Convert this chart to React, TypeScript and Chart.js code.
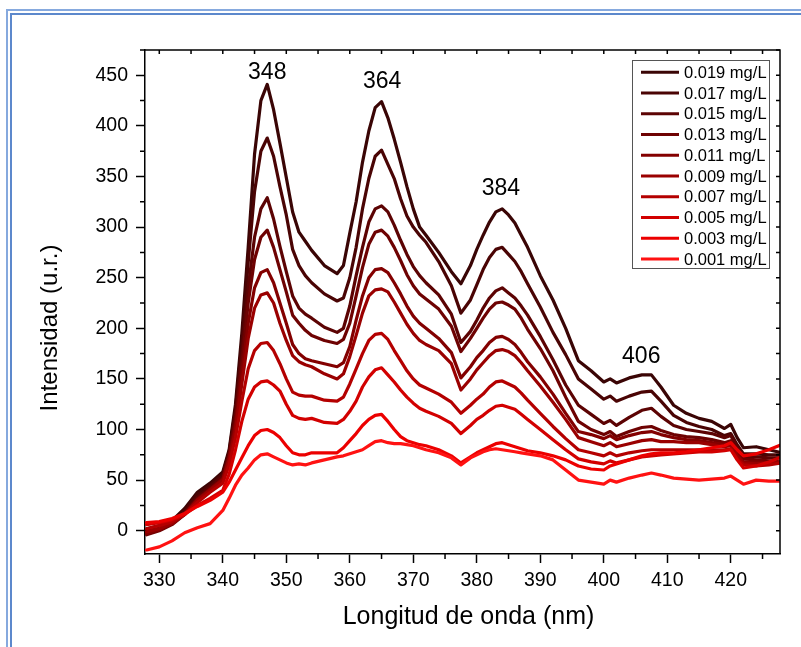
import React, { useEffect, useRef } from "react";
import { Chart, registerables } from "chart.js";

Chart.register(...registerables);

// ---------- data ----------
const wavelengths = [328, 330, 332, 334, 336, 338, 340, 341, 342, 343, 344, 345, 346, 347, 348, 349, 350, 351, 352, 353, 354, 356, 358, 359, 360, 361, 362, 363, 364, 365, 366, 367, 368, 369, 370, 371, 372, 374, 376, 377.5, 379, 380, 381, 382, 383, 384, 385, 386, 387, 388, 390, 392, 394, 396, 398, 400, 401, 402, 404, 406, 407.5, 409, 411, 413, 415, 417, 419, 420, 421, 422, 424, 426, 428];

const seriesLabels = ["0.019 mg/L", "0.017 mg/L", "0.015 mg/L", "0.013 mg/L", "0.011 mg/L", "0.009 mg/L", "0.007 mg/L", "0.005 mg/L", "0.003 mg/L", "0.001 mg/L"];

const s019 = [2, 5, 10, 22, 38, 47, 58, 80, 125, 195, 280, 372, 425, 441, 416, 383, 349, 315, 295, 286, 277, 262, 254, 262, 294, 325, 364, 395, 418, 424, 408, 387, 364, 340, 318, 300, 292, 275, 256, 244, 262, 278, 292, 305, 315, 318, 312, 304, 292, 280, 252, 228, 200, 168, 158, 147, 150, 146, 151, 154, 154, 142, 124, 116, 111, 108, 101, 105, 92, 82, 83, 80, 77];
const s017 = [0, 3, 9, 20, 36, 45, 56, 78, 120, 185, 265, 335, 375, 388, 370, 340, 312, 278, 262, 252, 245, 234, 227, 230, 250, 280, 318, 348, 370, 376, 362, 348, 328, 311, 300, 292, 285, 266, 242, 215, 228, 243, 258, 270, 278, 280, 273, 266, 256, 244, 221, 196, 174, 150, 140, 130, 133, 128, 133, 137, 138, 128, 114, 107, 103, 100, 94, 96, 85, 76, 76, 75, 75];
const s015 = [-2, 1, 8, 18, 33, 43, 54, 76, 115, 175, 240, 290, 318, 329, 308, 281, 256, 232, 220, 214, 210, 201, 196, 200, 222, 252, 280, 305, 318, 321, 315, 302, 287, 273, 261, 252, 245, 233, 214, 186, 197, 208, 220, 230, 237, 240, 235, 230, 222, 213, 192, 169, 144, 124, 115, 106, 109, 104, 112, 119, 121, 113, 104, 100, 98, 96, 92, 94, 82, 73, 73, 72, 72];
const s013 = [-4, 0, 6, 16, 30, 41, 52, 74, 110, 165, 225, 268, 290, 297, 280, 258, 236, 213, 205, 198, 193, 188, 185, 189, 205, 232, 260, 283, 295, 297, 291, 280, 267, 253, 242, 234, 229, 219, 202, 177, 190, 200, 210, 219, 225, 226, 223, 219, 210, 199, 180, 158, 132, 108, 100, 95, 98, 93, 98, 102, 103, 99, 95, 93, 92, 90, 87, 89, 78, 71, 70, 69, 68];
const s011 = [-3, 1, 7, 17, 31, 41, 51, 72, 105, 155, 205, 240, 255, 258, 245, 225, 205, 184, 175, 170, 168, 165, 162, 166, 182, 208, 232, 250, 258, 259, 255, 245, 234, 222, 212, 205, 200, 190, 176, 151, 162, 171, 178, 186, 191, 192, 189, 184, 176, 167, 152, 135, 116, 98, 95, 91, 94, 90, 94, 97, 98, 95, 92, 90, 89, 87, 85, 86, 76, 68, 68, 67, 67];
const s009 = [-1, 2, 7, 16, 30, 40, 50, 70, 100, 145, 190, 220, 233, 235, 225, 205, 188, 173, 167, 164, 162, 155, 150, 155, 172, 193, 215, 232, 238, 239, 236, 226, 215, 204, 195, 188, 184, 178, 165, 139, 150, 159, 166, 173, 178, 179, 177, 173, 166, 158, 143, 127, 110, 92, 88, 84, 87, 83, 86, 89, 90, 88, 88, 87, 87, 85, 83, 84, 74, 67, 66, 67, 68];
const s007 = [2, 5, 9, 16, 28, 38, 47, 65, 92, 128, 160, 178, 185, 186, 178, 165, 150, 137, 134, 133, 133, 129, 128, 132, 145, 160, 175, 188, 194, 195, 189, 178, 168, 158, 150, 144, 141, 135, 127, 116, 124, 130, 135, 142, 147, 148, 145, 142, 136, 129, 116, 103, 91, 80, 77, 74, 77, 74, 77, 79, 80, 80, 80, 80, 80, 80, 80, 81, 71, 65, 64, 65, 67];
const s005 = [6, 8, 11, 16, 25, 32, 40, 56, 80, 108, 130, 142, 147, 148, 144, 138, 125, 114, 111, 110, 111, 107, 106, 110, 118, 128, 142, 152, 159, 161, 154, 147, 139, 132, 126, 121, 118, 113, 106, 96, 104, 110, 114, 119, 123, 124, 122, 120, 115, 110, 100, 90, 80, 71, 68, 66, 69, 67, 70, 73, 74, 75, 76, 77, 78, 78, 79, 80, 70, 62, 64, 68, 73];
const s003 = [8, 9, 12, 17, 24, 30, 38, 48, 60, 72, 84, 94, 99, 100, 97, 92, 84, 77, 75, 75, 77, 77, 77, 82, 89, 96, 104, 110, 114, 115, 108, 100, 93, 89, 87, 85, 84, 80, 74, 67, 73, 77, 80, 83, 86, 87, 85, 83, 81, 79, 77, 74, 70, 64, 61, 60, 64, 66, 70, 74, 76, 77, 77, 78, 80, 82, 84, 87, 80, 74, 76, 80, 85];
const s001 = [-19, -16, -10, -2, 3, 7, 20, 32, 45, 55, 62, 70, 75, 76, 73, 70, 67, 65, 66, 65, 67, 70, 73, 74, 76, 78, 80, 84, 88, 89, 87, 86, 86, 85, 84, 82, 80, 77, 72, 65, 72, 75, 78, 80, 81, 80, 79, 78, 77, 76, 74, 70, 60, 50, 48, 46, 50, 48, 52, 55, 57, 55, 52, 51, 50, 51, 52, 54, 50, 46, 50, 49, 49];

const seriesColors = ["#3a0505", "#4a0404", "#5c0303", "#6e0202", "#830000", "#9a0000", "#b40000", "#d20000", "#ec0000", "#ff1212"];

const xTicks = [330, 340, 350, 360, 370, 380, 390, 400, 410, 420];
const xMinorTicks = [335, 345, 355, 365, 375, 385, 395, 405, 415, 425];
const yTicks = [0, 50, 100, 150, 200, 250, 300, 350, 400, 450];
const yMinorTicks = [25, 75, 125, 175, 225, 275, 325, 375, 425, 475];

const peakLabels = ["348", "364", "384", "406"];
const peakLabelX = [347.0, 365.1, 383.8, 405.9];
const peakLabelY = [453, 443.5, 337.6, 171.8];

const xTitle = "Longitud de onda (nm)";
const yTitle = "Intensidad (u.r.)";

const X_MIN = 327.75;
const X_MAX = 427.75;
const Y_MIN = -23;
const Y_MAX = 475;

const FONT = "'Liberation Sans', Arial, Helvetica, sans-serif";

const seriesValues = [s019, s017, s015, s013, s011, s009, s007, s005, s003, s001];

const decorPlugin = {
  id: "decor",
  beforeDraw(chart: any) {
    const ctx = chart.ctx;
    ctx.save();
    ctx.fillStyle = "#ffffff";
    ctx.fillRect(0, 0, chart.width, chart.height);
    // double blue frame (top and left visible)
    ctx.lineWidth = 2;
    ctx.strokeStyle = "#86a9de";
    ctx.beginPath();
    ctx.moveTo(7, chart.height + 5);
    ctx.lineTo(7, 10);
    ctx.lineTo(chart.width + 5, 10);
    ctx.stroke();
    ctx.strokeStyle = "#5c88cc";
    ctx.beginPath();
    ctx.moveTo(11, chart.height + 5);
    ctx.lineTo(11, 14);
    ctx.lineTo(chart.width + 5, 14);
    ctx.stroke();
    ctx.restore();
  },
  afterDraw(chart: any) {
    const ctx = chart.ctx;
    const a = chart.chartArea;
    const xs = chart.scales.x;
    const ys = chart.scales.y;
    ctx.save();
    // top and right frame
    ctx.strokeStyle = "#000";
    ctx.lineWidth = 1.5;
    ctx.beginPath();
    ctx.moveTo(a.left, a.top);
    ctx.lineTo(a.right, a.top);
    ctx.lineTo(a.right, a.bottom);
    ctx.stroke();
    // minor ticks (outward) and inward ticks on top/right
    ctx.beginPath();
    xMinorTicks.forEach((v) => {
      const p = xs.getPixelForValue(v);
      ctx.moveTo(p, a.bottom);
      ctx.lineTo(p, a.bottom + 5);
    });
    yMinorTicks.forEach((v) => {
      const p = ys.getPixelForValue(v);
      ctx.moveTo(a.left, p);
      ctx.lineTo(a.left - 5, p);
    });
    [...xTicks, ...xMinorTicks].forEach((v) => {
      const p = xs.getPixelForValue(v);
      ctx.moveTo(p, a.top);
      ctx.lineTo(p, a.top + 4);
    });
    [...yTicks, ...yMinorTicks].forEach((v) => {
      const p = ys.getPixelForValue(v);
      ctx.moveTo(a.right, p);
      ctx.lineTo(a.right - 4, p);
    });
    ctx.stroke();

    // legend
    const lx = 632.5, ly = 60.5, lw = 137, lh = 208;
    ctx.fillStyle = "#fff";
    ctx.fillRect(lx, ly, lw, lh);
    ctx.strokeStyle = "#555";
    ctx.lineWidth = 1;
    ctx.strokeRect(lx, ly, lw, lh);
    ctx.font = `16.5px ${FONT}`;
    ctx.textAlign = "left";
    ctx.textBaseline = "middle";
    chart.data.datasets.forEach((ds: any, i: number) => {
      const y = 72.3 + i * 20.75;
      ctx.strokeStyle = ds.borderColor;
      ctx.lineWidth = 3;
      ctx.beginPath();
      ctx.moveTo(641, y);
      ctx.lineTo(679, y);
      ctx.stroke();
      ctx.fillStyle = "#000";
      ctx.fillText(ds.label, 684, y + 1);
    });

    // peak labels
    ctx.fillStyle = "#000";
    ctx.font = `23px ${FONT}`;
    ctx.textAlign = "center";
    ctx.textBaseline = "middle";
    peakLabels.forEach((t, i) => {
      ctx.fillText(t, xs.getPixelForValue(peakLabelX[i]), ys.getPixelForValue(peakLabelY[i]));
    });

    // axis titles
    ctx.font = `25px ${FONT}`;
    ctx.fillText(xTitle, (a.left + a.right) / 2 + 6, 617);
    ctx.save();
    ctx.font = `24px ${FONT}`;
    ctx.translate(50, (a.top + a.bottom) / 2 + 26);
    ctx.rotate(-Math.PI / 2);
    ctx.fillText(yTitle, 0, 0);
    ctx.restore();

    ctx.restore();
  },
};

export default function App() {
  const canvasRef = useRef<HTMLCanvasElement | null>(null);

  useEffect(() => {
    const canvas = canvasRef.current;
    if (!canvas) return;
    const datasets = seriesValues.map((vals, i) => ({
      label: seriesLabels[i],
      data: wavelengths.map((w, j) => ({ x: w, y: vals[j] })),
      borderColor: seriesColors[i],
      backgroundColor: seriesColors[i],
      borderWidth: 3.2,
      pointRadius: 0,
      tension: 0,
      fill: false,
      order: seriesValues.length - 1 - i,
      borderJoinStyle: "round" as const,
      borderCapStyle: "round" as const,
    }));

    const chart = new Chart(canvas, {
      type: "line",
      data: { datasets },
      options: {
        animation: false,
        responsive: true,
        maintainAspectRatio: false,
        events: [],
        layout: { padding: { top: 50, right: 21, bottom: 0, left: 0 } },
        plugins: {
          legend: { display: false },
          tooltip: { enabled: false },
          title: { display: false },
        },
        scales: {
          x: {
            type: "linear",
            min: X_MIN,
            max: X_MAX,
            afterBuildTicks: (s: any) => {
              s.ticks = xTicks.map((v) => ({ value: v }));
            },
            afterFit: (s: any) => {
              s.height = 93;
            },
            grid: {
              display: true,
              drawOnChartArea: false,
              drawTicks: true,
              tickLength: 9,
              tickWidth: 1.5,
              tickColor: "#000",
            },
            border: { display: true, color: "#000", width: 1.5 },
            ticks: {
              color: "#000",
              font: { family: FONT, size: 19.5 },
              padding: 6,
              maxRotation: 0,
              autoSkip: false,
            },
          },
          y: {
            type: "linear",
            min: Y_MIN,
            max: Y_MAX,
            afterBuildTicks: (s: any) => {
              s.ticks = yTicks.map((v) => ({ value: v }));
            },
            afterFit: (s: any) => {
              s.width = 145;
            },
            grid: {
              display: true,
              drawOnChartArea: false,
              drawTicks: true,
              tickLength: 9,
              tickWidth: 1.5,
              tickColor: "#000",
            },
            border: { display: true, color: "#000", width: 1.5 },
            ticks: {
              color: "#000",
              font: { family: FONT, size: 19.5 },
              padding: 8,
              autoSkip: false,
            },
          },
        },
      } as any,
      plugins: [decorPlugin],
    });
    return () => chart.destroy();
  }, []);

  return (
    <div style={{ position: "absolute", left: 0, top: 0, width: 801, height: 647, background: "#fff" }}>
      <canvas ref={canvasRef} />
    </div>
  );
}
